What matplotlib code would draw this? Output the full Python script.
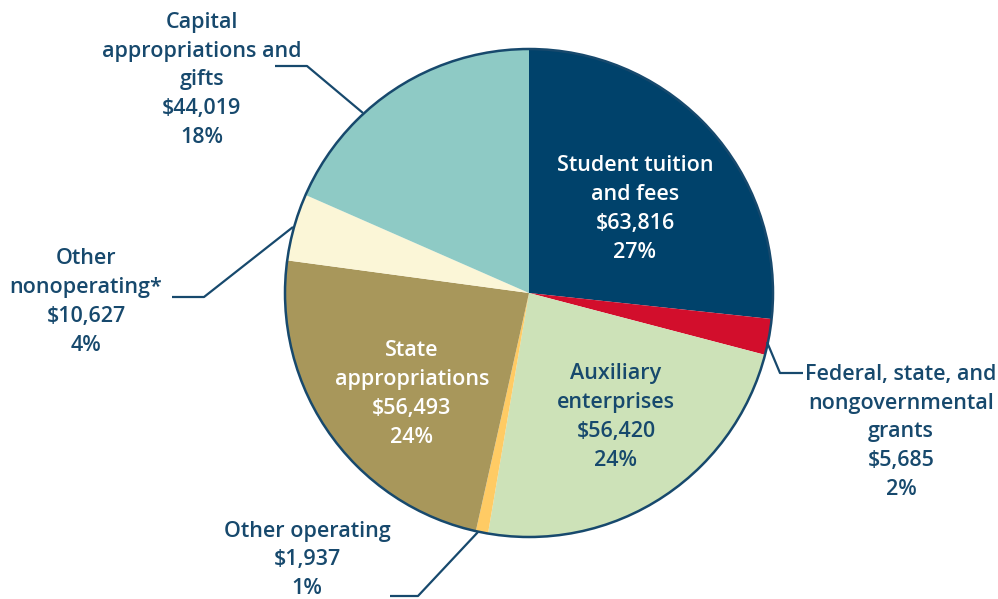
import matplotlib
matplotlib.use("Agg")
import matplotlib.pyplot as plt

# revenue sources (thousands), clockwise from 12 o'clock
labels = ["Student tuition\nand fees", "Federal, state, and\nnongovernmental\ngrants",
          "Auxiliary\nenterprises", "Other operating", "State\nappropriations",
          "Other\nnonoperating*", "Capital\nappropriations and\ngifts"]
values = [63816, 5685, 56420, 1937, 56493, 10627, 44019]
percents = ["27%", "2%", "24%", "1%", "24%", "4%", "18%"]
colors = ["#00426B", "#D20E2C", "#CDE2B8", "#FFCB64", "#A8975B", "#FBF6D7", "#8ECAC5"]

navy = "#17496D"
plt.rcParams['font.family'] = ['Open Sans', 'DejaVu Sans']

fig = plt.figure(figsize=(9.98, 5.99), dpi=100)
ax = fig.add_axes([0, 0, 1, 1])

cx, cy, r = 529, 293, 244
# inverted y axis -> counterclock=True draws clockwise on screen
wedges, _ = ax.pie(values, colors=colors, startangle=-90, counterclock=True,
                   center=(cx, cy), radius=r, frame=True,
                   wedgeprops=dict(linewidth=0))
ax.set_xlim(0, 998)
ax.set_ylim(599, 0)
ax.axis("off")
ax.add_patch(plt.Circle((cx, cy), r, fill=False, ec=navy, lw=1.8, zorder=3))

def label(i, x, y, color):
    txt = labels[i] + "\n$" + format(values[i], ",") + "\n" + percents[i]
    ax.text(x, y, txt, ha="center", va="center", color=color, fontsize=15.5,
            fontweight="semibold", linespacing=1.49)

label(0, 635, 209, "white")
label(2, 616, 417, navy)
label(4, 412, 394, "white")
label(1, 901, 432, navy)
label(3, 307, 560, navy)
label(5, 86, 302, navy)
label(6, 202, 80, navy)

# leader lines
kw = dict(color=navy, lw=1.6, solid_capstyle="butt")
ax.plot([363, 307, 275], [113, 66, 66], **kw)
ax.plot([293, 204, 172], [227, 297, 297], **kw)
ax.plot([767, 780, 803], [342, 373, 373], **kw)
ax.plot([478, 418, 390], [532, 596, 596], **kw)

fig.savefig("out.png", dpi=100)
